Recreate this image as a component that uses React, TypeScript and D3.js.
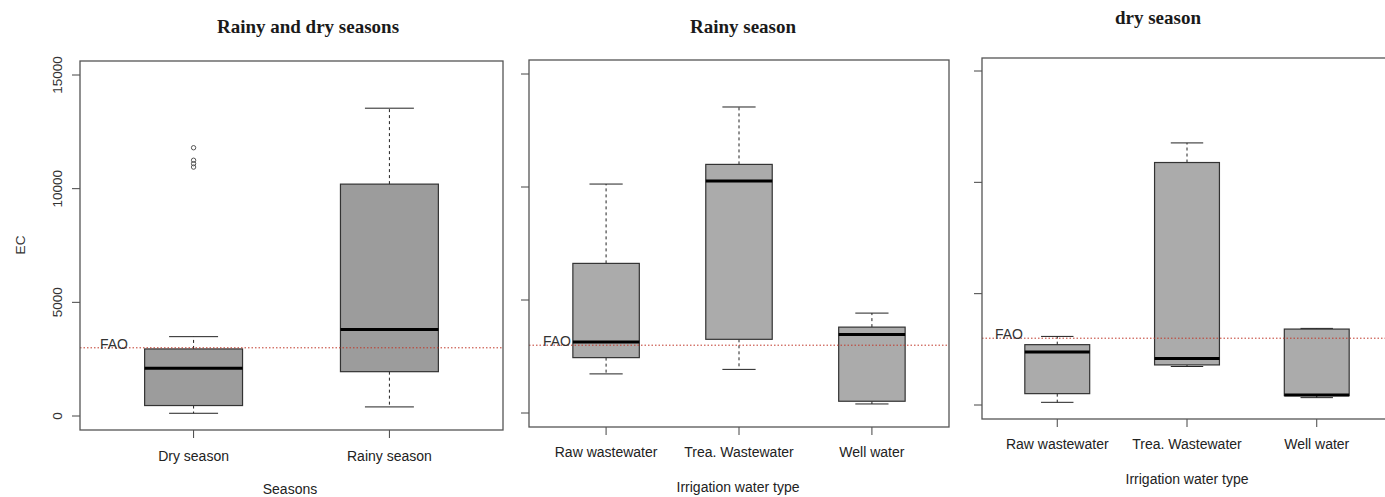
import React, { useRef, useEffect } from "react";
import { select, scaleLinear } from "d3";

// Rainy and dry seasons (all samples)
const seasonNames = ["Dry season", "Rainy season"];
const seasonLow = [120, 400];
const seasonQ1 = [460, 1950];
const seasonMedian = [2100, 3810];
const seasonQ3 = [2950, 10200];
const seasonHigh = [3490, 13540];
const seasonOutliers = [[11800, 11250, 11100, 10950], []];

const waterTypes = ["Raw wastewater", "Trea. Wastewater", "Well water"];

// Rainy season
const rainyLow = [1730, 1930, 400];
const rainyQ1 = [2450, 3260, 520];
const rainyMedian = [3140, 10270, 3470];
const rainyQ3 = [6620, 11000, 3800];
const rainyHigh = [10130, 13540, 4420];

// dry season
const dryLow = [120, 1730, 330];
const dryQ1 = [510, 1800, 420];
const dryMedian = [2380, 2090, 450];
const dryQ3 = [2710, 10890, 3410];
const dryHigh = [3080, 11770, 3440];

const faoLimit = 3000;
const yTicks = [0, 5000, 10000, 15000];

// layout of the three plots
const panels = [
    {
        title: "Rainy and dry seasons", xTitle: "Seasons", names: seasonNames,
        low: seasonLow, q1: seasonQ1, med: seasonMedian, q3: seasonQ3, high: seasonHigh, outliers: seasonOutliers,
        fill: "#9c9c9c", left: 80, right: 503, top: 61, bottom: 430, y0: 416, y15: 75,
        titleX: 308, titleY: 33, labelY: 461, xTitleX: 290, xTitleY: 494, faoDx: 20, yLabels: true,
    },
    {
        title: "Rainy season", xTitle: "Irrigation water type", names: waterTypes,
        low: rainyLow, q1: rainyQ1, med: rainyMedian, q3: rainyQ3, high: rainyHigh, outliers: [[], [], []],
        fill: "#ababab", left: 529, right: 949, top: 60, bottom: 427, y0: 413, y15: 74,
        titleX: 743, titleY: 33, labelY: 457, xTitleX: 738, xTitleY: 492, faoDx: 14, yLabels: false,
    },
    {
        title: "dry season", xTitle: "Irrigation water type", names: waterTypes,
        low: dryLow, q1: dryQ1, med: dryMedian, q3: dryQ3, high: dryHigh, outliers: [[], [], []],
        fill: "#ababab", left: 982, right: 1392, top: 58, bottom: 419, y0: 405, y15: 71,
        titleX: 1158, titleY: 24, labelY: 449, xTitleX: 1187, xTitleY: 484, faoDx: 13, yLabels: false,
    },
];

const sans = "'Liberation Sans', Arial, sans-serif";
const serif = "'Liberation Serif', 'Times New Roman', serif";

function BoxPlots() {
    const svgRef = useRef(null);

    useEffect(() => {
        const svg = select(svgRef.current);
        svg.selectAll("*").remove();

        panels.forEach(p => {
            const g = svg.append("g");
            const n = p.names.length;
            const x = scaleLinear().domain([0.42, n + 0.58]).range([p.left, p.right]);
            const y = scaleLinear().domain([0, 15000]).range([p.y0, p.y15]);
            const half = (x(1.25) - x(1)); // half box width
            const idx = p.names.map((d, i) => i);

            // title
            g.append("text")
                .attr("x", p.titleX)
                .attr("y", p.titleY)
                .attr("text-anchor", "middle")
                .attr("font-family", serif)
                .attr("font-weight", "bold")
                .attr("font-size", 19)
                .attr("fill", "#1a1a1a")
                .text(p.title);

            // y axis ticks
            g.selectAll(".ytick")
                .data(yTicks)
                .join("line")
                .attr("x1", p.left - 8).attr("x2", p.left)
                .attr("y1", d => y(d)).attr("y2", d => y(d))
                .attr("stroke", "#444");

            if (p.yLabels) {
                g.selectAll(".ylab")
                    .data(yTicks)
                    .join("text")
                    .attr("transform", d => `translate(62,${y(d)}) rotate(-90)`)
                    .attr("text-anchor", "middle")
                    .attr("font-family", sans)
                    .attr("font-size", 13.5)
                    .attr("fill", "#333")
                    .text(d => d);

                g.append("text")
                    .attr("transform", "translate(25,245) rotate(-90)")
                    .attr("text-anchor", "middle")
                    .attr("font-family", sans)
                    .attr("font-size", 13.5)
                    .attr("fill", "#333")
                    .text("EC");
            }

            // x ticks and labels
            g.selectAll(".xtick")
                .data(idx)
                .join("line")
                .attr("x1", i => x(i + 1)).attr("x2", i => x(i + 1))
                .attr("y1", p.bottom).attr("y2", p.bottom + 8)
                .attr("stroke", "#444");

            g.selectAll(".xlab")
                .data(p.names)
                .join("text")
                .attr("x", (d, i) => x(i + 1))
                .attr("y", p.labelY)
                .attr("text-anchor", "middle")
                .attr("font-family", sans)
                .attr("font-size", 14)
                .attr("fill", "#222")
                .text(d => d);

            g.append("text")
                .attr("x", p.xTitleX)
                .attr("y", p.xTitleY)
                .attr("text-anchor", "middle")
                .attr("font-family", sans)
                .attr("font-size", 14)
                .attr("fill", "#222")
                .text(p.xTitle);

            // whiskers
            g.selectAll(".wh-up")
                .data(idx)
                .join("line")
                .attr("x1", i => x(i + 1)).attr("x2", i => x(i + 1))
                .attr("y1", i => y(p.q3[i])).attr("y2", i => y(p.high[i]))
                .attr("stroke", "#222").attr("stroke-dasharray", "3,3");
            g.selectAll(".wh-down")
                .data(idx)
                .join("line")
                .attr("x1", i => x(i + 1)).attr("x2", i => x(i + 1))
                .attr("y1", i => y(p.q1[i])).attr("y2", i => y(p.low[i]))
                .attr("stroke", "#222").attr("stroke-dasharray", "3,3");

            // caps
            [p.high, p.low].forEach(vals => {
                g.selectAll(null)
                    .data(idx)
                    .join("line")
                    .attr("x1", i => x(i + 1) - half / 2).attr("x2", i => x(i + 1) + half / 2)
                    .attr("y1", i => y(vals[i])).attr("y2", i => y(vals[i]))
                    .attr("stroke", "#222");
            });

            // boxes
            g.selectAll(".box")
                .data(idx)
                .join("rect")
                .attr("x", i => x(i + 1) - half)
                .attr("width", half * 2)
                .attr("y", i => y(p.q3[i]))
                .attr("height", i => y(p.q1[i]) - y(p.q3[i]))
                .attr("fill", p.fill)
                .attr("stroke", "#333")
                .attr("stroke-width", 1.2);

            // medians
            g.selectAll(".med")
                .data(idx)
                .join("line")
                .attr("x1", i => x(i + 1) - half).attr("x2", i => x(i + 1) + half)
                .attr("y1", i => y(p.med[i])).attr("y2", i => y(p.med[i]))
                .attr("stroke", "#000")
                .attr("stroke-width", 3);

            // outliers
            p.outliers.forEach((pts, i) => {
                g.selectAll(null)
                    .data(pts)
                    .join("circle")
                    .attr("cx", x(i + 1))
                    .attr("cy", d => y(d))
                    .attr("r", 2.2)
                    .attr("fill", "none")
                    .attr("stroke", "#555");
            });

            // FAO limit
            g.append("line")
                .attr("x1", p.left).attr("x2", p.right)
                .attr("y1", y(faoLimit)).attr("y2", y(faoLimit))
                .attr("stroke", "#c0392b")
                .attr("stroke-width", 1)
                .attr("stroke-dasharray", "1.5,2");

            g.append("text")
                .attr("x", p.left + p.faoDx)
                .attr("y", y(faoLimit) + 1)
                .attr("font-family", sans)
                .attr("font-size", 14)
                .attr("fill", "#333")
                .text("FAO");

            // frame
            g.append("rect")
                .attr("x", p.left).attr("y", p.top)
                .attr("width", p.right - p.left)
                .attr("height", p.bottom - p.top)
                .attr("fill", "none")
                .attr("stroke", "#555")
                .attr("stroke-width", 1.3);
        });
    }, []);

    return (
        <svg ref={svgRef} width={1385} height={497}
            style={{ position: "absolute", left: 0, top: 0, background: "#fff" }}></svg>
    );
}

export default function App() {
    return <BoxPlots />;
}
